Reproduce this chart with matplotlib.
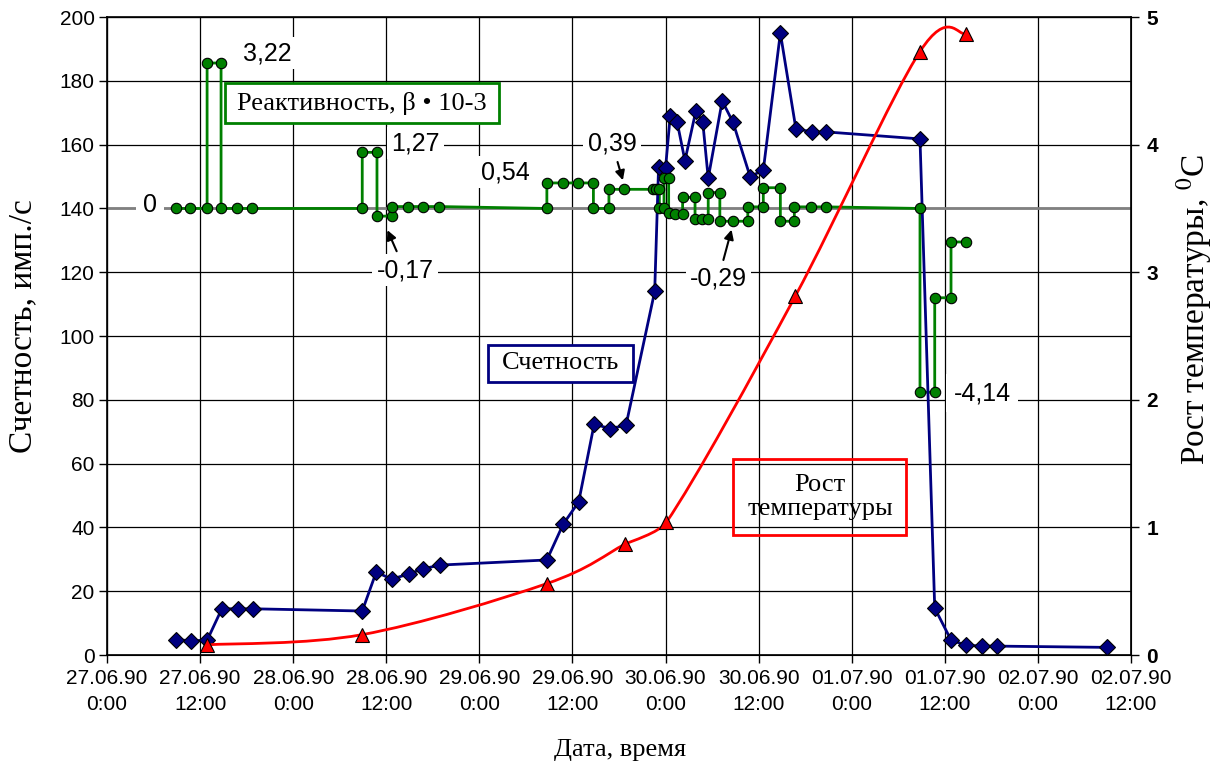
import numpy as np
import matplotlib.pyplot as plt
from matplotlib.path import Path
from matplotlib.patches import PathPatch, Rectangle

# time axis: hours since 27.06.90 0:00
tick_labels = ["27.06.90\n0:00", "27.06.90\n12:00", "28.06.90\n0:00", "28.06.90\n12:00",
               "29.06.90\n0:00", "29.06.90\n12:00", "30.06.90\n0:00", "30.06.90\n12:00",
               "01.07.90\n0:00", "01.07.90\n12:00", "02.07.90\n0:00", "02.07.90\n12:00"]

# count rate, imp/s (left axis)
count_hours = [8.9, 10.8, 12.9, 14.8, 16.9, 18.8,
               32.9, 34.7, 36.7, 38.9, 40.7, 42.9,
               56.7, 58.8, 60.8, 62.8, 64.8, 66.9,
               70.6, 71.1, 72.0, 72.6, 73.5, 74.5, 75.9, 76.8, 77.5, 79.3, 80.7, 82.9,
               84.6, 86.8, 88.8, 90.9, 92.7,
               104.8, 106.7, 108.8, 110.7, 112.8, 114.7, 128.9]
count_values = [4.8, 4.5, 4.6, 14.5, 14.5, 14.5,
                13.8, 26.0, 23.8, 25.4, 27.0, 28.2,
                29.8, 41.0, 48.0, 72.4, 71.0, 72.0,
                114.0, 153.0, 152.7, 169.0, 167.0, 155.0, 170.5, 167.0, 149.5, 173.7, 167.0, 150.0,
                152.0, 195.0, 165.0, 164.0, 164.0,
                161.8, 14.7, 4.7, 3.1, 2.8, 2.8, 2.4]

# reactivity steps, drawn on the left scale (zero reactivity at 140)
react_hours = [8.9, 10.7, 12.9, 12.9, 14.7, 14.7, 16.8, 18.7,
               32.9, 32.9, 34.8, 34.8, 36.7, 36.7, 38.8, 40.7, 42.8,
               56.7, 56.7, 58.8, 60.7, 62.7, 62.7, 64.7, 64.7, 66.6,
               70.4, 70.8, 71.2, 71.2, 71.8, 71.8, 72.4, 72.4, 73.2, 74.2, 74.2, 75.8, 75.8,
               76.7, 77.5, 77.5, 79.0, 79.0, 80.7, 82.6, 82.6, 84.6, 84.6, 86.8, 86.8,
               88.6, 88.6, 90.8, 92.7,
               104.8, 104.8, 106.7, 106.7, 108.8, 108.8, 110.7]
react_values = [140, 140, 140, 185.6, 185.6, 140, 140, 140,
                140, 157.6, 157.6, 137.6, 137.6, 140.6, 140.6, 140.6, 140.6,
                140, 148, 148, 148, 148, 140, 140, 146, 146,
                146, 146, 146, 140, 140, 149.5, 149.5, 138.5, 138.3, 138.3, 143.5, 143.5, 136.7,
                136.7, 136.7, 145, 145, 136, 136, 136, 140.5, 140.5, 146.5, 146.5, 136,
                136, 140.5, 140.5, 140.5,
                140, 82.4, 82.4, 112, 112, 129.5, 129.5]

# temperature rise, deg C (right axis)
temp_hours = [12.9, 32.9, 56.7, 66.8, 72.1, 88.7, 104.8, 110.7]
temp_values = [0.08, 0.16, 0.56, 0.87, 1.04, 2.81, 4.73, 4.87]


def smooth_path(xs, ys, trans):
    # excel-like smoothed line: cubic bezier with 1/6 tangents, worked out in pixels,
    # arms shortened when they would fold back inside a short segment
    pts = trans.transform(np.column_stack([xs, ys]))
    verts = [pts[0]]
    codes = [Path.MOVETO]
    n = len(pts)
    for i in range(n - 1):
        p0 = pts[max(i - 1, 0)]
        p1 = pts[i]
        p2 = pts[i + 1]
        p3 = pts[min(i + 2, n - 1)]
        a1 = (p2 - p0) / 6.0
        a2 = (p3 - p1) / 6.0
        seg = p2[0] - p1[0]
        s = a1[0] + a2[0]
        if s > 0.9 * seg:
            k = 0.3 * seg / s
            a1 = a1 * k
            a2 = a2 * k
        verts += [p1 + a1, p2 - a2, p2]
        codes += [Path.CURVE4] * 3
    return Path(trans.inverted().transform(np.array(verts)), codes)


plt.rcParams['font.family'] = 'Liberation Sans'
plt.rcParams['mathtext.fontset'] = 'stix'
serif = 'Liberation Serif'

fig = plt.figure(figsize=(12.19, 7.69), dpi=100)
ax = fig.add_axes([0.0878, 0.1482, 0.840, 0.8296])

ax.set_xlim(0, 132)
ax.set_ylim(0, 200)
ax.set_xticks(np.arange(0, 133, 12))
ax.set_xticklabels(tick_labels, fontsize=15, linespacing=1.5)
ax.set_yticks(np.arange(0, 201, 20))
ax.tick_params(axis='y', labelsize=15, length=6, width=1, pad=3)
ax.tick_params(axis='x', length=6, width=1, pad=4)
ax.grid(True, color='black', lw=0.9, zorder=0)
ax.set_axisbelow(True)
for s in ax.spines.values():
    s.set_linewidth(1.2)

# zero reactivity line
ax.axhline(140, color='gray', lw=2, zorder=1)

ax.plot(react_hours, react_values, color='green', lw=2, zorder=2)
ax.plot(count_hours, count_values, color='#000080', lw=2, marker='D', ms=8,
        mfc='#000080', mec='black', mew=0.8, zorder=3)
ax.plot(react_hours, react_values, ls='none', marker='o', ms=7.5,
        mfc='green', mec='black', mew=0.8, zorder=4)

ax2 = ax.twinx()
ax2.set_ylim(0, 5)
ax2.set_yticks(range(6))
ax2.tick_params(axis='y', labelsize=15, length=6, width=1, pad=5)
for lbl in ax2.get_yticklabels():
    lbl.set_fontweight('bold')
ax2.add_patch(PathPatch(smooth_path(temp_hours, temp_values, ax2.transData),
                        fc='none', ec='red', lw=2, zorder=2))
ax2.plot(temp_hours, temp_values, ls='none', marker='^', ms=10,
         mfc='red', mec='black', mew=0.8, zorder=3)

# value labels for the reactivity steps
wb = dict(fc='white', ec='none', pad=3)
ax2.text(20.6, 188.7 / 40, '3,22', fontsize=18, ha='center', va='center', bbox=wb)
ax2.text(39.8, 160.5 / 40, '1,27', fontsize=18, ha='center', va='center', bbox=wb)
ax2.text(51.3, 151.4 / 40, '0,54', fontsize=18, ha='center', va='center', bbox=wb)
ax2.text(5.5, 141 / 40, '0', fontsize=18, ha='center', va='center',
         bbox=dict(fc='white', ec='none', pad=5))
ax2.text(112.8, 82.1 / 40, '-4,14', fontsize=18, ha='center', va='center',
         bbox=dict(fc='white', ec='none', pad=5))
arr = dict(arrowstyle='-|>', color='black', lw=1.5, mutation_scale=14)
ax2.annotate('0,39', xy=(66.6, 148 / 40), xytext=(65.1, 160.5 / 40), fontsize=18,
             ha='center', va='center', arrowprops=arr, bbox=wb)
ax2.annotate('-0,17', xy=(36.0, 134 / 40), xytext=(38.4, 120.7 / 40), fontsize=18,
             ha='center', va='center', arrowprops=arr, bbox=wb)
ax2.annotate('-0,29', xy=(80.6, 134.2 / 40), xytext=(78.8, 117.9 / 40), fontsize=18,
             ha='center', va='center', arrowprops=arr, bbox=wb)

# series captions in framed boxes
ax2.add_patch(Rectangle((0.1152, 0.8339), 0.2676, 0.0627, transform=ax2.transAxes,
                        fc='white', ec='green', lw=2, zorder=5))
ax2.text(0.2490, 0.8652, 'Реактивность, β • 10-3', family=serif, fontsize=19,
         ha='center', va='center', transform=ax2.transAxes, zorder=6)
ax2.add_patch(Rectangle((0.3721, 0.4279), 0.1416, 0.0580, transform=ax2.transAxes,
                        fc='white', ec='#000080', lw=2, zorder=5))
ax2.text(0.4424, 0.4577, 'Счетность', family=serif, fontsize=19,
         ha='center', va='center', transform=ax2.transAxes, zorder=6)
ax2.add_patch(Rectangle((0.6113, 0.1881), 0.1690, 0.1191, transform=ax2.transAxes,
                        fc='none', ec='red', lw=2, zorder=5))
ax2.text(0.6963, 0.2476, 'Рост\nтемпературы', family=serif, fontsize=19,
         ha='center', va='center', linespacing=1.15, transform=ax2.transAxes, zorder=6)

fig.text(0.0185, 0.576, 'Счетность, имп./с', family=serif, fontsize=24,
         rotation=90, ha='center', va='center')
fig.text(0.980, 0.597, 'Рост температуры, $^{0}$С', family=serif, fontsize=24,
         rotation=90, ha='center', va='center')
fig.text(0.5086, 0.0247, 'Дата, время', family=serif, fontsize=19,
         ha='center', va='center')

fig.savefig('out.png', dpi=100)
